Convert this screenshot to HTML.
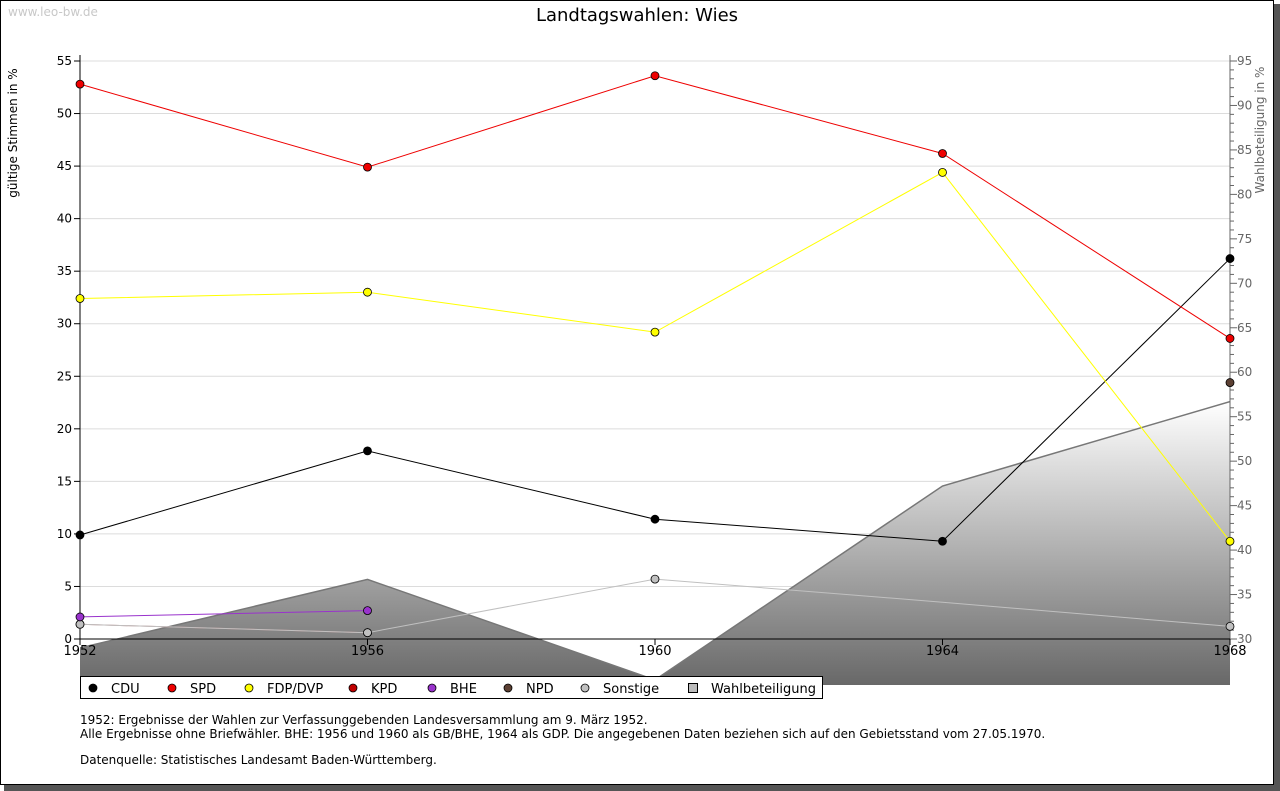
<!DOCTYPE html>
<html><head><meta charset="utf-8"><style>
body{margin:0;background:#fff;}
svg{display:block;font-family:"DejaVu Sans","Liberation Sans",sans-serif;}
</style></head><body>
<svg id="c" width="1280" height="791">
<defs><linearGradient id="ag" x1="0" y1="402" x2="0" y2="685" gradientUnits="userSpaceOnUse"><stop offset="0" stop-color="#ffffff"/><stop offset="1" stop-color="#686868"/></linearGradient>
<clipPath id="cl"><rect x="80" y="50" width="1150" height="635"/></clipPath></defs>
<rect x="4" y="4" width="1276" height="787" fill="#555"/>
<rect x="0.5" y="0.5" width="1273" height="784" fill="#fff" stroke="#000"/>
<text x="8" y="16" font-size="12" fill="#c8c8c8">www.leo-bw.de</text>
<text x="637" y="21" font-size="18" text-anchor="middle" fill="#000">Landtagswahlen: Wies</text>
<text transform="translate(17,133) rotate(-90)" font-size="12" text-anchor="middle">gültige Stimmen in %</text>
<text transform="translate(1264,130) rotate(-90)" font-size="12" fill="#666" text-anchor="middle">Wahlbeteiligung in %</text>
<g id="grid"></g><g id="area" clip-path="url(#cl)"></g><g id="axes"></g><g id="lines"></g>
<g id="legend"></g>
<text x="80" y="724" font-size="12">1952: Ergebnisse der Wahlen zur Verfassunggebenden Landesversammlung am 9. März 1952.</text>
<text x="80" y="738" font-size="12">Alle Ergebnisse ohne Briefwähler. BHE: 1956 und 1960 als GB/BHE, 1964 als GDP. Die angegebenen Daten beziehen sich auf den Gebietsstand vom 27.05.1970.</text>
<text x="80" y="764" font-size="12">Datenquelle: Statistisches Landesamt Baden-Württemberg.</text>
</svg>
<script>
const years=[1952,1956,1960,1964,1968];
const cdu=[9.9,17.9,11.4,9.3,36.2];
const spd=[52.8,44.9,53.6,46.2,28.6];
const fdp=[32.4,33.0,29.2,44.4,9.3];
const kpd=[1.4,0.6,null,null,null];
const bhe=[2.1,2.7,null,null,null];
const npd=[null,null,null,null,24.4];
const sonst=[1.4,0.6,5.7,3.5,1.2];
const turnout=[29.0,36.7,25.4,47.2,56.7];
const leftTicks=[0,5,10,15,20,25,30,35,40,45,50,55];
const rightTicks=[30,35,40,45,50,55,60,65,70,75,80,85,90,95];
const NS='http://www.w3.org/2000/svg';
const X=i=>80+i*(1150/(years.length-1));
const Y=v=>639-v*(578/55);
const Y2=v=>639-(v-30)*(578/65);
function mk(t,a,p){const e=document.createElementNS(NS,t);for(const k in a)e.setAttribute(k,a[k]);p.appendChild(e);return e;}
const grid=document.getElementById('grid'),axes=document.getElementById('axes'),lines=document.getElementById('lines'),area=document.getElementById('area');
leftTicks.forEach(t=>{
 if(t>0){const g=mk('line',{x1:80,x2:1230,y1:Y(t),y2:Y(t),stroke:'#dcdcdc'},grid);
 
 }
 mk('line',{x1:74,x2:80,y1:Y(t),y2:Y(t),stroke:'#000'},axes);
 const l=mk('text',{x:72,y:Y(t)+4,'font-size':12,'text-anchor':'end'},axes);l.textContent=t;
 
 
});
for(let v=30;v<=95;v++){mk('line',{x1:1230,x2:v%5==0?1237:1234,y1:Y2(v),y2:Y2(v),stroke:'#666'},axes);}
rightTicks.forEach(t=>{const l=mk('text',{x:1237,y:Y2(t)+4,'font-size':12,fill:'#666'},axes);l.textContent=t;
 
 });
let pts='80,685 '+turnout.map((v,i)=>X(i)+','+Y2(v)).join(' ')+' 1230,685';
const ar=mk('polygon',{points:pts,fill:'url(#ag)'},area);


const al=mk('polyline',{points:turnout.map((v,i)=>X(i)+','+Y2(v)).join(' '),fill:'none',stroke:'#777','stroke-width':1.5},area);


mk('line',{x1:80,x2:80,y1:55,y2:639,stroke:'#000'},axes);
mk('line',{x1:1230,x2:1230,y1:55,y2:639,stroke:'#666'},axes);
mk('line',{x1:80,x2:1230,y1:639,y2:639,stroke:'#000'},axes);
years.forEach((y,i)=>{mk('line',{x1:X(i),x2:X(i),y1:639,y2:645,stroke:'#000'},axes);
 const l=mk('text',{x:X(i),y:655,'font-size':13,'text-anchor':'middle'},axes);l.textContent=y;
 
 });
function series(name,data,stroke,fill,hide){
 const g=mk('g',{},lines);
 
 
 let segs=[];data.forEach((v,i)=>{if(v!=null)segs.push(X(i)+','+Y(v));});
 if(segs.length>1)mk('polyline',{points:segs.join(' '),fill:'none',stroke:stroke},g);
 data.forEach((v,i)=>{if(v==null||(hide&&hide.includes(i)))return;const x=X(i),y=Y(v);
  const m=mk('circle',{cx:x,cy:y,r:4,fill:fill,stroke:'#000','stroke-width':0.8},g);
  
  });
}
series('kpd',kpd,'#c08080','#c00000');
series('sonstige',sonst,'#c0c0c0','#c0c0c0',[3]);
series('bhe',bhe,'#9933cc','#9933cc');
series('npd',npd,'#5c4033','#5c4033');
series('cdu',cdu,'#000','#000');
series('fdp',fdp,'#ffff00','#ffff00');
series('spd',spd,'#ee0000','#ee0000');
const lg=document.getElementById('legend');
mk('rect',{x:80.5,y:676.5,width:742,height:22,fill:'#fff',stroke:'#000'},lg);
const items=[['CDU','#000',93],['SPD','#ee0000',172],['FDP/DVP','#ffff00',249],['KPD','#c00000',353],['BHE','#9933cc',432],['NPD','#5c4033',508],['Sonstige','#c0c0c0',585]];
items.forEach(([n,c,x])=>{
 const e=mk('g',{},lg);
 
 
 mk('circle',{cx:x,cy:688,r:4,fill:c,stroke:'#000','stroke-width':0.8},e);
 const t=mk('text',{x:x+18,y:693,'font-size':13},e);t.textContent=n;});
const e=mk('g',{},lg);


mk('rect',{x:688.5,y:683.5,width:9,height:9,fill:'#bbb',stroke:'#000'},e);
const t=mk('text',{x:711,y:693,'font-size':13},e);t.textContent='Wahlbeteiligung';
</script>
</body></html>
